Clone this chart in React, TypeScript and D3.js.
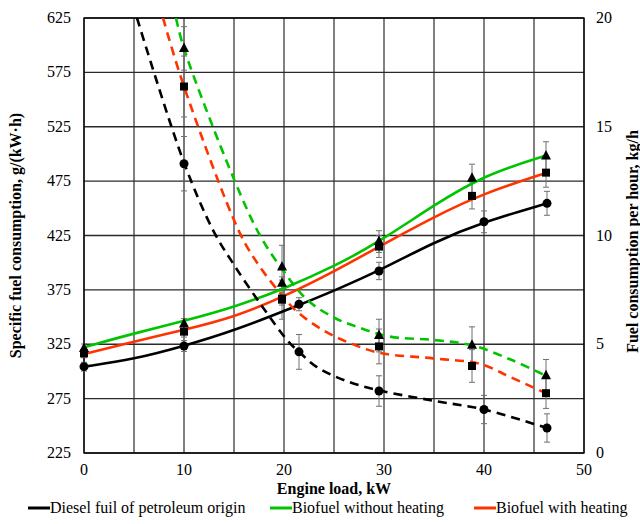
import React from "react";
import * as d3 from "d3";

// marker data (x = engine load, kW)
const dieselLoad = [0, 10, 21.5, 29.5, 40, 46.3];
const dieselHourly = [3.97, 4.92, 6.84, 8.37, 10.63, 11.48];
const dieselHourlyErr = [0.2, 0.25, 0.3, 0.4, 0.5, 0.55];
const dieselSpecLoad = [10, 21.5, 29.5, 40, 46.3];
const dieselSpec = [491, 318, 282, 265, 248];
const dieselSpecErr = [25, 16, 14, 13, 13];

const bioLoad = [0, 10, 19.8, 29.5, 38.8, 46.2];
const coldHourly = [4.81, 5.93, 7.8, 9.72, 12.63, 13.66];
const coldHourlyErr = [0.2, 0.25, 0.3, 0.5, 0.65, 0.65];
const hotHourly = [4.58, 5.58, 7.1, 9.49, 11.82, 12.89];
const hotHourlyErr = [0.2, 0.25, 0.3, 0.5, 0.6, 0.67];
const bioSpecLoad = [10, 19.8, 29.5, 38.8, 46.2];
const coldSpec = [597, 396, 333, 324, 296];
const coldSpecErr = [20, 20, 15, 17, 15];
const hotSpec = [562, 366, 323, 305, 280];
const hotSpecErr = [28, 18, 16, 15, 14];

// trend curves: [load, value]
const dieselHourlyCurve = [[0, 3.97], [5, 4.31], [10, 4.92], [15, 5.62], [21.5, 6.8], [25, 7.46], [29.5, 8.37], [35, 9.7], [40, 10.63], [46.3, 11.48]];
const coldHourlyCurve = [[0, 4.86], [5, 5.5], [10, 6.07], [15, 6.7], [20, 7.55], [25, 8.57], [29.5, 9.7], [35, 11.4], [40, 12.78], [46.3, 13.69]];
const hotHourlyCurve = [[0, 4.55], [5, 5.12], [10, 5.66], [15, 6.24], [20, 7.19], [25, 8.34], [29.5, 9.49], [35, 10.86], [40, 11.95], [46.3, 12.89]];
const dieselSpecCurve = [[5.3, 625], [10, 492], [12.9, 430], [15, 398], [17.8, 360], [20.3, 329], [21.5, 318], [23.3, 304], [26.3, 291], [29.5, 282.6], [35, 273], [40, 265], [44.9, 252], [46.3, 248]];
const coldSpecCurve = [[9.2, 625], [10, 597], [14.9, 479], [17.6, 425], [19.9, 393], [22.3, 366], [24.9, 350], [27.3, 341], [30.6, 332], [34.9, 329], [38.8, 324], [42.9, 310], [46.2, 296]];
const hotSpecCurve = [[7.9, 625], [10, 562], [15.6, 427], [17.6, 396], [19.8, 370], [21.3, 355], [23.9, 338], [26.6, 326], [29.6, 317], [34.9, 312], [39.6, 307], [42.6, 295], [46.2, 280]];

const xTicks = [0, 10, 20, 30, 40, 50];
const leftTicks = [225, 275, 325, 375, 425, 475, 525, 575, 625];
const rightTicks = [0, 5, 10, 15, 20];

const legendItems = [
  { label: "Diesel fuil of petroleum origin", color: "#000000", x: 28 },
  { label: "Biofuel without heating", color: "#00c400", x: 270 },
  { label: "Biofuel with heating", color: "#ff3300", x: 474 },
];

const font = '"Liberation Serif", "Times New Roman", serif';

export default function App() {
  const left = 84, right = 584, top = 18, bottom = 453;
  const x = d3.scaleLinear().domain([0, 50]).range([left, right]);
  const yL = d3.scaleLinear().domain([225, 625]).range([bottom, top]);
  const yR = d3.scaleLinear().domain([0, 20]).range([bottom, top]);

  const lineL = d3.line<number[]>().x((d) => x(d[0])).y((d) => yL(d[1])).curve(d3.curveCatmullRom.alpha(0.5));
  const lineR = d3.line<number[]>().x((d) => x(d[0])).y((d) => yR(d[1])).curve(d3.curveBasis);

  const gridX = d3.range(0, 51, 5);

  const errBars = (xs: number[], ys: number[], es: number[], y: any, key: string) =>
    xs.map((v, i) => {
      const cx = x(v), y1 = y(ys[i] - es[i]), y2 = y(ys[i] + es[i]);
      return (
        <g key={key + i} stroke="#707070" strokeWidth={1}>
          <line x1={cx} x2={cx} y1={y1} y2={y2} />
          <line x1={cx - 3} x2={cx + 3} y1={y1} y2={y1} />
          <line x1={cx - 3} x2={cx + 3} y1={y2} y2={y2} />
        </g>
      );
    });

  const circles = (xs: number[], ys: number[], y: any, key: string) =>
    xs.map((v, i) => <circle key={key + i} cx={x(v)} cy={y(ys[i])} r={4.5} fill="#000" />);
  const squares = (xs: number[], ys: number[], y: any, key: string) =>
    xs.map((v, i) => <rect key={key + i} x={x(v) - 4} y={y(ys[i]) - 4} width={8} height={8} fill="#000" />);
  const triangles = (xs: number[], ys: number[], y: any, key: string) =>
    xs.map((v, i) => {
      const cx = x(v), cy = y(ys[i]);
      return <path key={key + i} d={`M${cx},${cy - 6}L${cx + 5},${cy + 3.5}L${cx - 5},${cy + 3.5}Z`} fill="#000" />;
    });

  const dash = "9,6";

  return (
    <svg width={640} height={524} style={{ display: "block", position: "absolute", left: 0, top: 0, background: "#fff", fontFamily: font }}>
      <defs>
        <clipPath id="plot">
          <rect x={left} y={top} width={right - left} height={bottom - top} />
        </clipPath>
      </defs>
      <rect width={640} height={524} fill="#fff" />
      {/* grid */}
      {gridX.map((g) => (
        <line key={"gx" + g} x1={x(g)} x2={x(g)} y1={top} y2={bottom} stroke="#3c3c3c" strokeWidth={1.3} />
      ))}
      {leftTicks.map((t) => (
        <line key={"gy" + t} x1={left} x2={right} y1={yL(t)} y2={yL(t)} stroke="#2a2a2a" strokeWidth={1.3} />
      ))}
      <rect x={left} y={top} width={right - left} height={bottom - top} fill="none" stroke="#000" strokeWidth={1.3} />

      {/* tick labels */}
      {leftTicks.map((t) => (
        <text key={"lt" + t} x={71} y={yL(t) + 5} fontSize={16} textAnchor="end">{t}</text>
      ))}
      {rightTicks.map((t) => (
        <text key={"rt" + t} x={596} y={yR(t) + 5} fontSize={16} textAnchor="start">{t}</text>
      ))}
      {xTicks.map((t) => (
        <text key={"xt" + t} x={x(t)} y={475} fontSize={16} textAnchor="middle">{t}</text>
      ))}

      {/* axis titles */}
      <text x={x(25)} y={494} fontSize={16} fontWeight="bold" textAnchor="middle">Engine load, kW</text>
      <text transform={`translate(21,${(top + bottom) / 2}) rotate(-90)`} fontSize={16} fontWeight="bold" textAnchor="middle">
        Specific fuel consumption, g/(kW·h)
      </text>
      <text transform={`translate(638,${(top + bottom) / 2 + 6}) rotate(-90)`} fontSize={16} fontWeight="bold" textAnchor="middle">
        Fuel consumption per hour, kg/h
      </text>

      {/* error bars */}
      {errBars(dieselLoad, dieselHourly, dieselHourlyErr, yR, "edh")}
      {errBars(dieselSpecLoad, dieselSpec, dieselSpecErr, yL, "eds")}
      {errBars(bioLoad, coldHourly, coldHourlyErr, yR, "ech")}
      {errBars(bioLoad, hotHourly, hotHourlyErr, yR, "ehh")}
      {errBars(bioSpecLoad, coldSpec, coldSpecErr, yL, "ecs")}
      {errBars(bioSpecLoad, hotSpec, hotSpecErr, yL, "ehs")}

      {/* curves */}
      <g clipPath="url(#plot)" fill="none" strokeWidth={2.6}>
        <path d={lineR(coldHourlyCurve) || ""} stroke="#00c400" />
        <path d={lineR(hotHourlyCurve) || ""} stroke="#ff3300" />
        <path d={lineR(dieselHourlyCurve) || ""} stroke="#000" />
        <path d={lineL(coldSpecCurve) || ""} stroke="#00c400" strokeDasharray={dash} />
        <path d={lineL(hotSpecCurve) || ""} stroke="#ff3300" strokeDasharray={dash} />
        <path d={lineL(dieselSpecCurve) || ""} stroke="#000" strokeDasharray={dash} />
      </g>

      {/* markers */}
      {circles(dieselLoad, dieselHourly, yR, "mdh")}
      {circles(dieselSpecLoad, dieselSpec, yL, "mds")}
      {triangles(bioLoad, coldHourly, yR, "mch")}
      {triangles(bioSpecLoad, coldSpec, yL, "mcs")}
      {squares(bioLoad, hotHourly, yR, "mhh")}
      {squares(bioSpecLoad, hotSpec, yL, "mhs")}

      {/* legend */}
      {legendItems.map((l) => (
        <g key={l.label}>
          <line x1={l.x} x2={l.x + 22} y1={508} y2={508} stroke={l.color} strokeWidth={3} />
          <text x={l.x + 22} y={513} fontSize={16}>{l.label}</text>
        </g>
      ))}
    </svg>
  );
}
